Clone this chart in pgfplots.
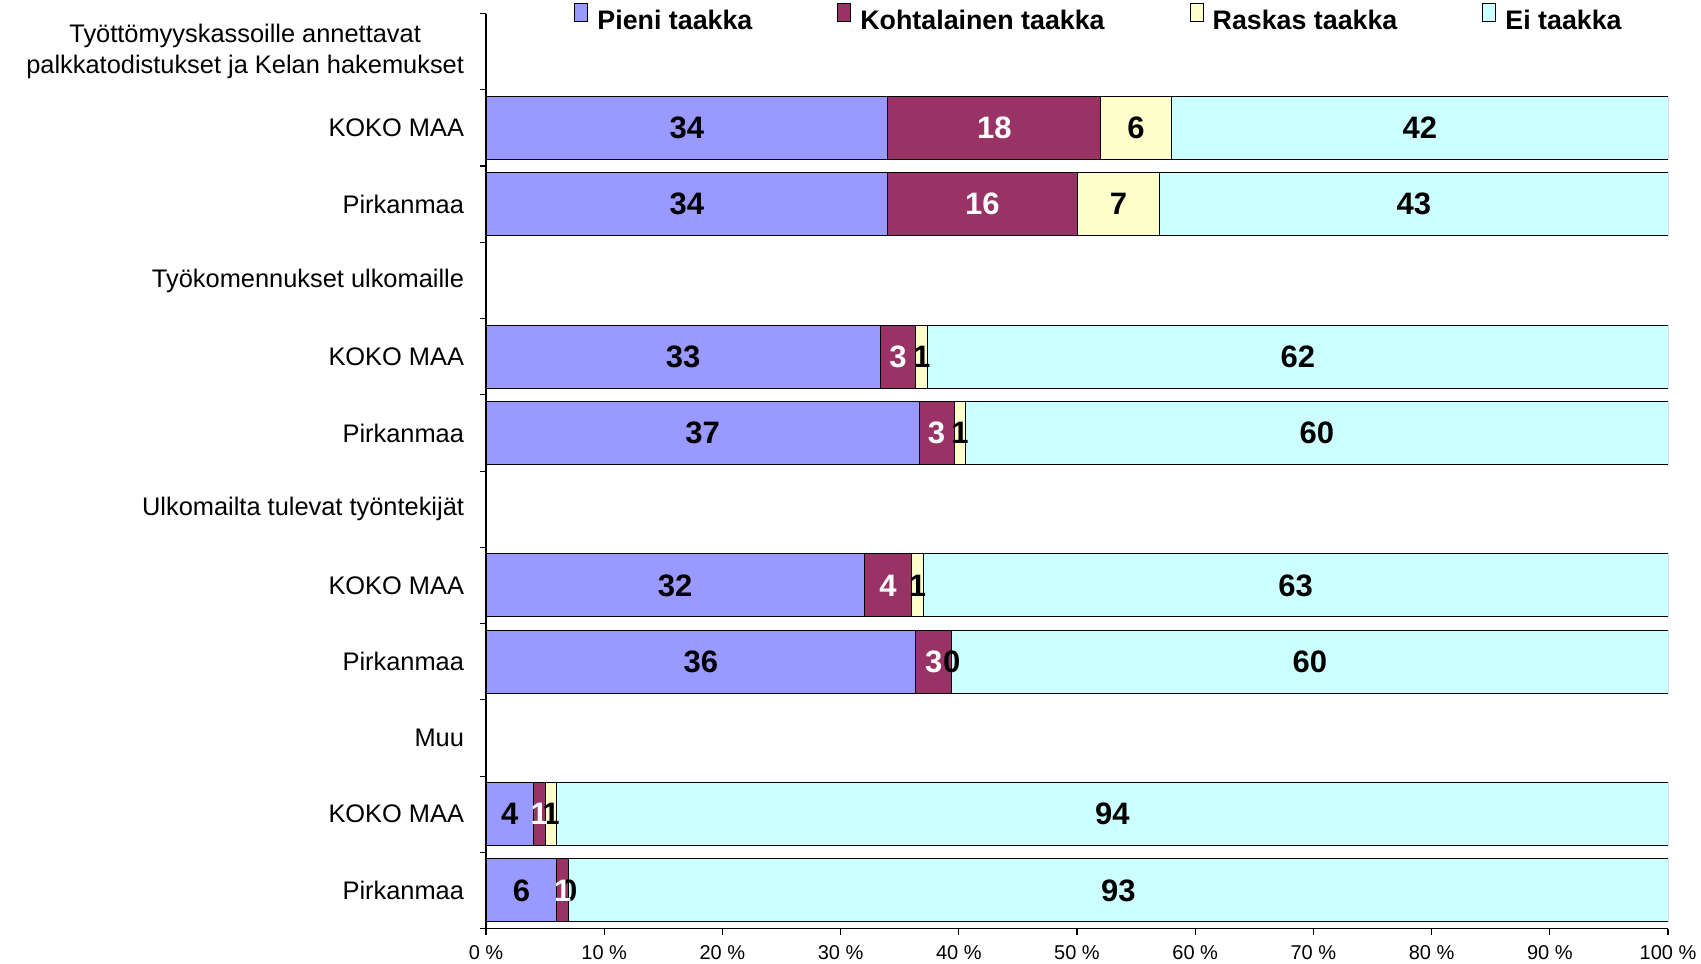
\documentclass[border=0pt]{standalone}
\usepackage{pgfplots}
\pgfplotsset{compat=1.18}
\usepackage{pgfplotstable}
\usepackage{fontspec}
\setmainfont{Liberation Sans}
\definecolor{cPieni}{RGB}{153,153,255}
\definecolor{cKoht}{RGB}{153,51,102}
\definecolor{cRask}{RGB}{255,255,204}
\definecolor{cEi}{RGB}{204,255,255}

% v = share of the bar (the four series of a row normalised to 100), lbl = printed value
\pgfplotstableread{
row v lbl
1 34 34
2 34 34
4 33.333 33
5 36.634 37
7 32 32
8 36.364 36
10 4 4
11 6 6
}\pieni
\pgfplotstableread{
row v lbl
1 18 18
2 16 16
4 3.030 3
5 2.970 3
7 4 4
8 3.030 3
10 1 1
11 1 1
}\koht
\pgfplotstableread{
row v lbl
1 6 6
2 7 7
4 1.010 1
5 0.990 1
7 1 1
8 0.01 0
10 1 1
11 0.01 0
}\rask
\pgfplotstableread{
row v lbl
1 42 42
2 43 43
4 62.626 62
5 59.406 60
7 63 63
8 60.596 60
10 94 94
11 92.99 93
}\ei

\pgfplotsset{
  mysq/.style={legend image code/.code={\draw[##1,draw=black,line width=0.5pt] (0pt,0pt) rectangle (6.5pt,9pt); \path (9pt,0pt);}},
  seg/.style={mysq, fill=#1, draw=black, line width=0.5pt},
  geom/.style={at={(243pt,17.2pt)}, anchor=south west,
    scale only axis, width=591pt, height=457.5pt,
    xbar stacked, bar width=31.5pt,
    xmin=0, xmax=100, ymin=-0.5, ymax=11.5, y dir=reverse},
}

\begin{document}
\begin{tikzpicture}
\useasboundingbox (0,0) rectangle (850.5pt,481.5pt);
\begin{axis}[
  geom,
  axis x line=bottom, axis y line=left,
  axis line style={-, black, line width=0.6pt},
  tick align=outside, major tick length=0pt, minor tick length=3pt,
  every tick/.style={black, line width=0.6pt},
  xtick={0,10,...,100},
  minor xtick={0,10,...,100},
  xticklabels={0 \%,10 \%,20 \%,30 \%,40 \%,50 \%,60 \%,70 \%,80 \%,90 \%,100 \%},
  xticklabel style={font=\fontsize{10}{12}\selectfont, inner sep=0pt, anchor=north, yshift=-8.3pt},
  ytick={0,...,11},
  minor ytick={-0.5,0.5,...,11.5},
  yticklabels={{Työttömyyskassoille annettavat\\palkkatodistukset ja Kelan hakemukset},KOKO MAA,Pirkanmaa,Työkomennukset ulkomaille,KOKO MAA,Pirkanmaa,Ulkomailta tulevat työntekijät,KOKO MAA,Pirkanmaa,Muu,KOKO MAA,Pirkanmaa},
  yticklabel style={font=\fontsize{12.7}{15.7}\selectfont, align=center, inner sep=0pt, anchor=east, xshift=-10.8pt},
  legend style={at={(0.0745,0.9935)}, anchor=west, draw=none, fill=none, inner sep=0pt,
    font=\fontsize{13.4}{16}\selectfont\bfseries,
    /tikz/every even column/.append style={column sep=40.5pt}},
  legend columns=4,
]
\addplot[seg=cPieni] table[x=v, y=row]{\pieni};
\addplot[seg=cKoht] table[x=v, y=row]{\koht};
\addplot[seg=cRask] table[x=v, y=row]{\rask};
\addplot[seg=cEi] table[x=v, y=row]{\ei};
\legend{Pieni taakka,Kohtalainen taakka,Raskas taakka,Ei taakka}
\end{axis}
% value labels, drawn over all the bars
\begin{axis}[
  geom, hide axis,
  point meta=explicit symbolic,
  nodes near coords,
  every node near coord/.append style={anchor=center, font=\fontsize{15.5}{18}\selectfont\bfseries},
]
\addplot[draw=none, fill=none, every node near coord/.append style={text=black}] table[x=v, y=row, meta=lbl]{\pieni};
\addplot[draw=none, fill=none, every node near coord/.append style={text=white}] table[x=v, y=row, meta=lbl]{\koht};
\addplot[draw=none, fill=none, every node near coord/.append style={text=black}] table[x=v, y=row, meta=lbl]{\rask};
\addplot[draw=none, fill=none, every node near coord/.append style={text=black}] table[x=v, y=row, meta=lbl]{\ei};
\end{axis}
\end{tikzpicture}
\end{document}
